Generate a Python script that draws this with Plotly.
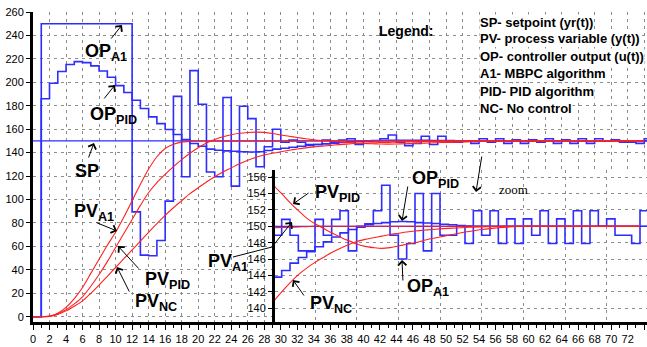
import plotly.graph_objects as go

# ---------------- data ----------------
# controller outputs are held constant over each sampling interval [k, k+1)
t_op = list(range(0, 76))
op_a1 = [0, 250, 250, 250, 250, 250, 250, 250, 250, 250, 250, 250,
         89.5, 52.6, 52.0, 65.0, 98.6, 188, 119.4, 210, 181.3, 123.5,
         119.4, 187, 111.4, 179.6, 169, 128, 145, 160,
         148.9, 150.85, 148.9, 147.0, 147.0, 150.85, 148.9, 150.85, 151.9, 147.0,
         149.9, 150.3, 151.9, 155.0, 148.9, 146.0, 147.9, 154.0, 147.0, 154.0,
         148.9, 148.9, 150.0, 147.9, 151.9, 148.9, 151.9, 147.9, 150.9, 147.9,
         150.9, 148.9, 151.9, 147.9, 150.9, 147.9, 151.9, 147.9, 151.9, 150.0,
         150.9, 148.9, 148.9, 147.9, 151.9, 151.9]
op_pid = [0, 186, 199.2, 209.2, 215.2, 217.7, 216.8, 214, 209.7, 204.3,
          197.2, 191.3, 184.7, 177.6, 170.5, 164.8, 159.7, 155.5, 151.2, 147.8,
          145.5, 143, 142, 141.5, 141.2, 140.8, 140.5, 140.8, 141.8, 143,
          143.8, 144.6, 145.5, 146.2, 146.9, 147.5, 148.1, 148.7, 149.2, 149.6,
          150.0, 150.2, 150.35, 150.45, 150.55, 150.58, 150.55, 150.45, 150.4, 150.35,
          150.25, 150.18, 150.08, 150.03] + [150] * 22

# process variable responses
t_pv = list(range(0, 75))
pv_a1 = [0, 0, 0.5, 3, 8, 15.5, 25, 37, 49, 61,
         72, 85, 99, 113, 126, 136.5, 143.5, 147.2, 149.0, 149.6,
         149.8, 149.8, 149.8, 149.8, 149.8, 149.8, 149.8, 149.8, 149.8, 149.8,
         149.82, 149.85, 149.88, 149.92, 149.96] + [150] * 40
pv_pid = [0, 0, 0.4, 2.5, 6, 11, 17, 26, 36, 47,
          59, 71, 83, 95, 106, 114.5, 121.5, 128, 134, 139.5,
          144.2, 148.2, 151.3, 153.6, 155.3, 156.5, 157.2, 157.5, 157.3, 156.4,
          155.0, 154.0, 152.9, 151.9, 151.0, 150.3, 149.75, 149.2, 148.7, 148.25,
          147.85, 147.55, 147.4, 147.3, 147.4, 147.6, 147.8, 148.0, 148.25, 148.5,
          148.7, 148.9, 149.1, 149.3, 149.45, 149.6, 149.72, 149.82, 149.9, 149.95] + [150] * 15
pv_nc = [0, 0, 0.3, 2, 5, 9, 13.5, 20, 27, 34.5,
         42, 49.5, 57, 64.5, 72, 79.5, 86.5, 93, 99, 105,
         110, 115, 119.5, 123.5, 127, 130.5, 133.5, 136, 138, 139.5,
         140.8, 142, 143.1, 144.1, 144.9, 145.6, 146.2, 146.8, 147.3, 147.75,
         148.15, 148.4, 148.6, 148.8, 149.0, 149.15, 149.3, 149.42, 149.52, 149.6,
         149.68, 149.75, 149.8, 149.85, 149.9, 149.93, 149.96, 149.98] + [150] * 17

sp_t = [0, 75]
sp_val = [150, 150]

legend_lines = ["SP- setpoint (yr(t))", "PV- process variable (y(t))",
                "OP- controller output (u(t))", "A1- MBPC algorithm",
                "PID- PID algorithm", "NC- No control"]

# ---------------- geometry ----------------
W, H = 647, 347
ML, MR, MT, MB = 33, 0, 12, 25
PW, PH = W - ML - MR, H - MT - MB
X_MAX = PW / 8.26
Y_MIN, Y_MAX = -4.5, 260.0

INSET_LEFT_PX, INSET_TOP_PX = 275, 170
INSET_X0 = (INSET_LEFT_PX - ML) / PW
INSET_Y1 = (H - MB - INSET_TOP_PX) / PH
INSET_XR = [30.2, 74.84]
INSET_YR = [138.32, 156.87]


def paper(px, py):
    return (px - ML) / PW, (H - MB - py) / PH


FONT = "Liberation Sans, Arial, sans-serif"
BLUE = "#2d2dff"
RED = "#ff2020"
GRID = "#8c8c8c"

fig = go.Figure()


def add_series(xa, ya):
    kw = dict(mode="lines", xaxis=xa, yaxis=ya, hoverinfo="skip")
    fig.add_trace(go.Scatter(x=t_op, y=op_pid, line=dict(color=BLUE, width=1.6, shape="hv"), **kw))
    fig.add_trace(go.Scatter(x=t_op, y=op_a1, line=dict(color=BLUE, width=1.6, shape="hv"), **kw))
    fig.add_trace(go.Scatter(x=sp_t, y=sp_val, line=dict(color=BLUE, width=1.2), **kw))
    for pv in (pv_nc, pv_pid, pv_a1):
        fig.add_trace(go.Scatter(x=t_pv, y=pv, line=dict(color=RED, width=1.1, shape="spline", smoothing=0.8), **kw))


add_series("x", "y")
add_series("x2", "y2")

tickfont = dict(family=FONT, size=11, color="black")
grid = dict(showgrid=True, gridcolor=GRID, gridwidth=1, griddash="3px,4px", zeroline=False, automargin=False)

fig.update_layout(
    width=W, height=H, margin=dict(l=ML, r=MR, t=MT, b=MB, autoexpand=False),
    paper_bgcolor="white", plot_bgcolor="white", showlegend=False,
    xaxis=dict(domain=[0, 1], range=[0, X_MAX], anchor="y", tickmode="linear", tick0=0, dtick=2,
               ticks="outside", ticklen=5, tickcolor="black",
               minor=dict(dtick=1, ticks="outside", ticklen=3, tickcolor="black", showgrid=False),
               showline=True, linecolor="black", linewidth=3, tickfont=tickfont, **grid),
    yaxis=dict(domain=[0, 1], range=[Y_MIN, Y_MAX], anchor="x", tickmode="linear", tick0=0, dtick=20,
               ticks="outside", ticklen=4, tickcolor="black",
               showline=True, linecolor="black", linewidth=3, tickfont=tickfont, **grid),
    xaxis2=dict(domain=[INSET_X0, 1], range=INSET_XR, anchor="y2", tickmode="linear", tick0=0, dtick=5,
                showticklabels=False, ticks="", showline=False, **grid),
    yaxis2=dict(domain=[0, INSET_Y1], range=INSET_YR, anchor="x2", tickmode="linear", tick0=0, dtick=2,
                ticks="outside", ticklen=4, tickcolor="black",
                showline=True, linecolor="black", linewidth=3, tickfont=tickfont, **grid),
)

# white backing for the zoom window, above the main grid and below its own grid
fig.add_shape(type="rect", xref="x", yref="y",
              x0=(INSET_LEFT_PX - ML) / 8.26, x1=X_MAX,
              y0=Y_MIN, y1=Y_MAX - (INSET_TOP_PX - MT) * (Y_MAX - Y_MIN) / PH,
              fillcolor="white", line_width=0, layer="between")

# curve labels: (html text, left px, middle py)
labels = [
    ("<b>OP<sub>A1</sub></b>", 83, 53),
    ("<b>OP<sub>PID</sub></b>", 88, 115),
    ("<b>SP</b>", 73, 171),
    ("<b>PV<sub>A1</sub></b>", 72, 212),
    ("<b>PV<sub>PID</sub></b>", 143, 280),
    ("<b>PV<sub>NC</sub></b>", 133, 302),
    ("<b>PV<sub>PID</sub></b>", 313, 193),
    ("<b>OP<sub>PID</sub></b>", 410, 179),
    ("<b>PV<sub>A1</sub></b>", 206, 262),
    ("<b>PV<sub>NC</sub></b>", 308, 304),
    ("<b>OP<sub>A1</sub></b>", 405, 287),
]
for txt, lx, ly in labels:
    x, y = paper(lx, ly)
    fig.add_annotation(x=x, y=y, xref="paper", yref="paper", text=txt, showarrow=False,
                       xanchor="left", yanchor="middle",
                       font=dict(family=FONT, size=18, color="black"))

# pointer arrows: (tail px, tail py, head px, head py)
arrows = [
    (110, 40, 122, 25),
    (103, 100, 115, 85),
    (88, 159, 94, 143),
    (95, 222, 117, 231),
    (140, 270, 118, 246),
    (130, 293, 117, 267),
    (482, 155, 476, 192),
    (310, 192, 293, 204),
    (408, 185, 402, 221),
    (272, 247, 292, 222),
    (305, 297, 293, 280),
    (403, 282, 402, 260),
]
for tx, ty, hx, hy in arrows:
    x, y = paper(hx, hy)
    fig.add_annotation(x=x, y=y, xref="paper", yref="paper", ax=tx - hx, ay=ty - hy,
                       text="", showarrow=True, arrowhead=4, arrowsize=1.6, arrowwidth=1,
                       arrowcolor="black", standoff=0, startstandoff=0)

# leader segment for the inset PV_A1 label
x0, y0 = paper(233, 257)
x1, y1 = paper(272, 247)
fig.add_shape(type="line", xref="paper", yref="paper", x0=x0, y0=y0, x1=x1, y1=y1,
              line=dict(color="black", width=1))

# "zoom" caption
x, y = paper(497, 189)
fig.add_annotation(x=x, y=y, xref="paper", yref="paper", text="zoom", showarrow=False,
                   xanchor="left", yanchor="middle",
                   font=dict(family="Liberation Serif, Times New Roman, serif", size=13, color="black"))

# legend block
x, y = paper(377, 31)
fig.add_annotation(x=x, y=y, xref="paper", yref="paper", text="<b>Legend:</b>", showarrow=False,
                   xanchor="left", yanchor="middle", font=dict(family=FONT, size=14, color="black"))
for i, line in enumerate(legend_lines):
    ly = [22.5, 39, 56, 74, 91, 108][i]
    x, y = paper(479, ly)
    fig.add_annotation(x=x, y=y, xref="paper", yref="paper", text="<b>" + line + "</b>",
                       showarrow=False, xanchor="left", yanchor="middle", bgcolor="white",
                       borderpad=0, font=dict(family=FONT, size=13, color="black"))

fig.write_html("out.html")
